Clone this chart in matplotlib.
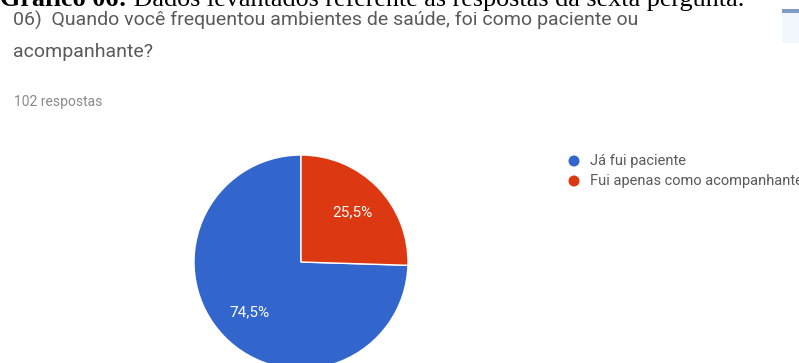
import matplotlib
matplotlib.use("Agg")
import matplotlib.pyplot as plt
from matplotlib.patches import Rectangle, Ellipse

W, H = 799, 363

# respostas da pergunta 06 (102 no total)
labels = ['Já fui paciente', 'Fui apenas como acompanhante']
counts = [76, 26]
colors = ['#3366cc', '#dc3912']

caption_bold = 'Gráfico 06:'
caption_rest = ' Dados levantados referente às respostas da sexta pergunta.'
question = ['06)  Quando você frequentou ambientes de saúde, foi como paciente ou',
            'acompanhante?']
n_answers = '102 respostas'


def px(x, y):
    # pixel position (top-left origin) -> figure fraction
    return x / W, 1 - y / H


fig = plt.figure(figsize=(W / 100, H / 100), dpi=100)
fig.patch.set_facecolor('white')

# caption of the document, cut at the top edge
t = fig.text(*px(0, 6), caption_bold, family='Liberation Serif', weight='bold',
             fontsize=18.8, color='black', va='baseline')
fig.canvas.draw()
bb = t.get_window_extent()
fig.text(bb.x1 / W, 1 - 6 / H, caption_rest, family='Liberation Serif',
         fontsize=18.8, color='black', va='baseline')

# question title
fig.text(*px(13, 26), question[0], family='Roboto', fontsize=14,
         color='#5a5a5a', va='baseline')
fig.text(*px(13, 57), question[1], family='Roboto', fontsize=14,
         color='#5a5a5a', va='baseline')
fig.text(*px(14, 106), n_answers, family='Roboto', fontsize=10,
         color='#8a8a8a', va='baseline')

# small icon at the top right corner
fig.patches.append(Rectangle(px(782, 43), 17 / W, 34 / H, transform=fig.transFigure,
                             facecolor='#f1f7fc', edgecolor='none'))
fig.patches.append(Rectangle(px(782, 13), 17 / W, 4 / H, transform=fig.transFigure,
                             facecolor='#7f9cc4', edgecolor='none'))

# pie
cx, cy, r = 301, 262, 107
ax = fig.add_axes([(cx - r) / W, (H - cy - r) / H, 2 * r / W, 2 * r / H])
wedges, texts, autotexts = ax.pie(
    counts, colors=colors, startangle=90, counterclock=True, radius=1,
    autopct=lambda p: f'{p:.1f}%'.replace('.', ','), pctdistance=0.67,
    wedgeprops=dict(edgecolor='white', linewidth=1),
    textprops=dict(color='white', fontsize=11, family='Roboto'))
ax.set_xlim(-1, 1)
ax.set_ylim(-1, 1)
ax.set_aspect('equal')
ax.axis('off')

# legend
for i, (lab, col) in enumerate(zip(labels, colors)):
    y = 161 + 20 * i
    fig.patches.append(Ellipse(px(574, y), 11 / W, 11 / H, transform=fig.transFigure,
                               facecolor=col, edgecolor='none'))
    fig.text(*px(590, y), lab, family='Roboto', fontsize=10.5, color='#5a5a5a',
             va='center')

fig.savefig('out.png', dpi=100)
